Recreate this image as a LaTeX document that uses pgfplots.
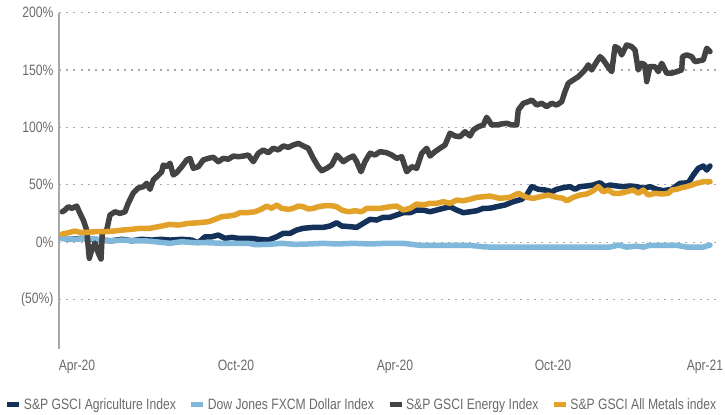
\documentclass[border=0pt]{standalone}
\usepackage{pgfplots}
\pgfplotsset{compat=1.18}
\usepackage{pgfplotstable}
\usepackage{fontspec}
\setmainfont{Liberation Sans}[FakeStretch=0.81]
\definecolor{agri}{HTML}{14315A}
\definecolor{dollar}{HTML}{7FB8DA}
\definecolor{energy}{HTML}{434343}
\definecolor{metals}{HTML}{E2A229}
\definecolor{tickgray}{HTML}{6A6A6A}
\definecolor{gridgray}{HTML}{A8A8A8}

\pgfplotstableread{
x y
62.3 26.4
65 27.9
68.3 30.8
71.7 29.4
76.7 31.4
80 25.0
83.3 19.2
86.7 10.5
89.3 -14.2
91.7 -7.0
95 -0.9
98.3 -9.6
101 -14.8
102.3 7.9
106.7 10.5
110 23.6
115 26.4
120 25.0
125 26.4
128.3 34.0
133.3 42.8
138.3 47.1
143.3 48.3
146.7 51.2
150 46.0
153.3 54.1
156.7 57.0
161.7 61.3
163.3 67.2
166.7 65.7
170 68.7
173.3 58.5
176.7 60.5
181.7 65.7
186.7 71.6
190 73.0
193.3 64.3
198.3 65.7
203.3 71.6
208.3 73.0
213.3 73.9
218.3 70.1
223.3 73.0
228.3 72.2
233.3 75.0
238.3 74.4
243.3 75.0
248.3 75.9
253.3 70.1
258.3 77.4
263.3 80.3
268.3 77.9
273.3 81.8
278.3 80.3
283.3 83.8
288.3 82.6
293.3 84.6
298.3 86.1
303.3 83.8
308.3 81.8
313.3 73.0
318.3 65.7
321.7 62.2
326.7 64.3
331.7 67.2
336.7 75.9
340 73.0
343.3 70.1
348.3 73.0
353.3 75.0
356.7 70.1
361 61.3
365 70.1
370 77.4
375 75.9
380 78.8
386.7 77.9
391.7 75.9
396.7 73.0
401.7 74.4
406.7 61.3
411.7 65.7
416.7 64.3
421.7 77.4
426.7 81.8
430 75.0
435 78.8
440 81.8
445 84.6
450 94.9
455 92.5
460 91.9
465 96.2
470 92.5
473.3 97.7
478.3 100.6
483.3 102.1
486.7 108.8
491.7 102.1
496.7 102.1
501.7 103.0
506.7 103.6
511.7 102.1
516.7 102.1
518.3 115.2
523.3 121.0
528.3 122.4
531.7 123.9
536.7 119.5
541.7 121.0
546.7 118.1
551.7 121.0
556.7 119.5
561.7 122.4
565 131.2
568.3 138.5
573.3 141.4
578.3 144.2
581.7 147.2
585 150.1
588.3 154.5
591.7 150.1
596.7 157.3
600 161.7
603.3 158.8
606.7 154.5
611.7 148.6
615 170.4
618.3 169.0
621.7 163.2
626.7 171.9
631.7 170.4
635 167.5
638.3 150.1
641.7 155.9
645 154.5
646.7 139.9
650 153.0
655 153.0
658.3 148.6
661.7 155.9
666.7 147.2
671.7 147.2
676.7 148.6
681.7 150.1
682.5 161.7
686.7 163.2
691.7 161.7
695 157.3
700 158.2
703.3 158.8
706.7 169.0
710 166.1
}\energytable

\pgfplotstableread{
x y
62.3 7.0
68.3 8.1
75 9.6
80 8.5
86.7 8.5
95 9.0
103.3 9.0
113.3 9.6
123.3 10.5
131.7 11.1
140 12.0
150 12.0
158.3 13.4
170 15.4
178.3 14.8
188.3 16.3
198.3 16.8
208.3 17.7
215 19.8
221.7 22.1
228.3 22.7
235 23.6
240 25.6
246.7 25.6
255 26.4
261.7 28.8
266.7 31.4
271.7 29.4
276.7 32.3
281.7 29.4
288.3 28.5
293.3 29.4
298.3 31.4
303.3 30.8
308.3 28.8
313.3 29.4
318.3 30.8
325 31.7
331.7 31.7
336.7 30.8
341.7 27.9
348.3 26.4
355 27.3
361.7 26.4
366.7 29.4
373.3 29.4
380 29.4
390 30.8
396.7 31.4
403.3 27.9
410 29.4
416.7 33.2
423.3 32.3
430 33.8
436.7 33.8
443.3 35.2
450 33.8
456.7 36.6
463.3 36.0
470 37.3
476.7 39.0
483.3 39.5
490 40.1
500 38.1
510 39.0
518.3 42.5
526.7 39.0
533.3 38.1
540 39.5
548.3 41.0
556.7 39.0
563.3 38.1
566.7 36.0
573.3 39.0
580 41.0
586.7 41.9
593.3 44.8
598.3 48.3
603.3 43.9
608.3 45.4
613.3 42.5
620 42.5
626.7 43.9
633.3 45.4
638.3 42.5
643.3 45.4
648.3 41.0
655 42.5
661.7 41.9
668.3 42.5
671.7 45.4
676.7 46.0
681.7 47.4
686.7 48.3
691.7 49.7
696.7 51.2
703.3 52.6
710 52.6
}\metalstable

\pgfplotstableread{
x y
62.3 3.2
71.7 2.6
81.7 3.2
91.7 2.4
101.7 1.7
111.7 1.1
121.7 2.4
131.7 1.1
141.7 2.4
151.7 1.7
161.7 2.4
170 1.7
181.7 2.4
191.7 1.7
198.3 -0.6
205 4.6
211.7 4.6
218.3 6.1
225 3.2
231.7 4.1
238.3 3.2
245 3.2
251.7 3.2
258.3 2.4
268.3 1.7
276.7 4.6
283.3 7.6
290 7.6
296.7 10.5
303.3 12.0
313.3 12.8
323.3 12.8
330 14.0
336.7 16.8
341.7 14.0
350 13.4
356.7 12.8
363.3 16.3
370 19.8
376.7 19.2
383.3 21.6
390 21.6
396.7 23.6
403.3 25.6
410 25.6
416.7 27.9
423.3 27.9
430 26.4
436.7 27.9
443.3 29.4
450 30.8
456.7 27.9
463.3 25.6
470 26.4
476.7 27.3
483.3 29.4
490 29.5
496.7 30.8
505 32.3
513.3 35.2
521.7 37.3
526.7 41.0
531.7 48.3
538.3 46.0
545 45.4
551.7 43.9
556.7 46.0
563.3 47.4
570 48.3
575 46.0
580 48.3
586.7 48.9
593.3 49.7
600 51.7
605 48.3
610 49.7
616.7 48.9
623.3 48.3
630 48.9
636.7 48.3
643.3 46.9
650 48.3
656.7 46.0
663.3 44.8
671.7 46.0
680 51.2
688.3 51.7
693.3 58.5
698.3 64.3
703.3 66.3
706.7 62.8
710 66.3
}\agritable

\pgfplotstableread{
x y
62.3 3.2
75 2.4
88.3 3.2
98.3 2.4
110 0.9
121.7 1.7
135 1.1
145 1.1
155 0.3
170 -1.1
181.7 0.3
195 -0.6
208.3 -0.6
221.7 -1.1
235 -1.1
248.3 -1.1
255 -2.3
268.3 -2.0
281.7 -1.1
295 -2.0
308.3 -1.7
323.3 -1.1
336.7 -1.7
353.3 -1.1
370 -1.7
386.7 -1.1
403.3 -1.1
420 -2.9
436.7 -2.9
453.3 -2.9
470 -2.9
483.3 -4.1
490 -4.4
550 -4.4
610 -4.4
618.3 -2.6
626.7 -4.4
636.7 -3.5
643.3 -4.4
650 -2.8
676.7 -2.8
686.7 -4.4
703.3 -4.4
710 -2.6
}\dollartable

\begin{document}
\begin{tikzpicture}
\begin{axis}[
  name=ax,
  scale only axis,
  width=661pt, height=336pt,
  xmin=59, xmax=720, ymin=-93, ymax=200,
  axis lines*=left,
  x axis line style={draw=none},
  y axis line style={draw=gridgray, line width=1.5pt},
  major tick length=0pt,
  xtick={77,236,395,553,705},
  xticklabels={Apr-20,Oct-20,Apr-20,Oct-20,Apr-21},
  ytick={-50,0,50,100,150,200},
  yticklabels={(50\%),0\%,50\%,100\%,150\%,200\%},
  ymajorgrids,
  grid style={draw=gridgray, line width=1.1pt, dash pattern=on 2pt off 5.2pt},
  tick label style={font=\fontsize{15}{17}\selectfont, text=tickgray},
  xticklabel style={yshift=-8pt},
  yticklabel style={xshift=-2pt},
  clip=false,
  legend columns=4,
  legend style={draw=none, fill=none, inner sep=0pt,
    at={(axis description cs:-0.082,-0.167)}, anchor=west,
    font=\fontsize{15}{17}\selectfont, text=tickgray,
    /tikz/every even column/.append style={column sep=11pt},
    nodes={inner sep=2pt}},
  legend image code/.code={\draw[#1, line width=5pt, line cap=butt] (0pt,0pt) -- (12pt,0pt);},
  every axis plot/.append style={line width=5.5pt, line join=round, line cap=round},
]
\addplot[agri] table[x=x,y=y] {\agritable};
\addplot[dollar] table[x=x,y=y] {\dollartable};
\addplot[energy] table[x=x,y=y] {\energytable};
\addplot[metals] table[x=x,y=y] {\metalstable};
\legend{S\&P GSCI Agriculture Index, Dow Jones FXCM Dollar Index, S\&P GSCI Energy Index, S\&P GSCI All Metals index}
\end{axis}
\pgfresetboundingbox
\path[use as bounding box] ([xshift=-59pt,yshift=-66pt]ax.south west) rectangle ([xshift=5pt,yshift=12.7pt]ax.north east);
\end{tikzpicture}
\end{document}
